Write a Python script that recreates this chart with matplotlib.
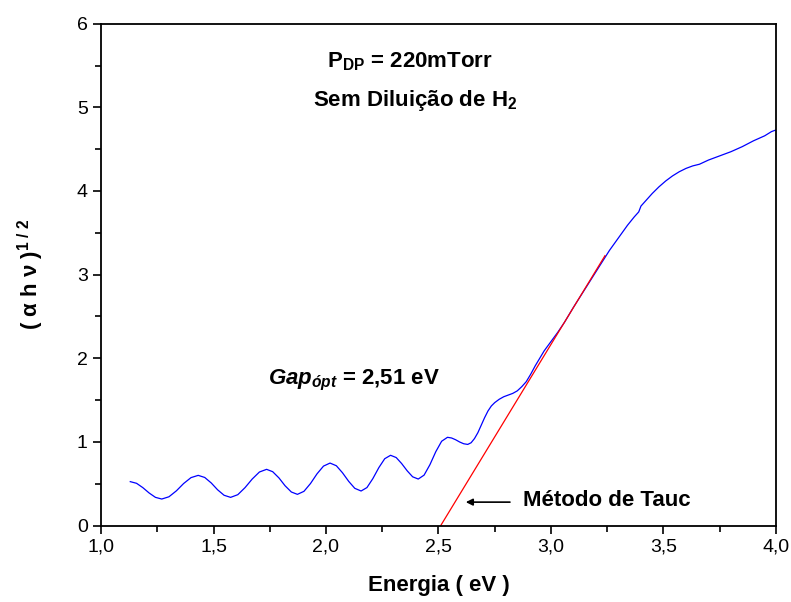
import matplotlib.pyplot as plt
from matplotlib.ticker import MultipleLocator, FuncFormatter

plt.rcParams['font.family'] = ['Liberation Sans', 'DejaVu Sans']
plt.rcParams['mathtext.fontset'] = 'custom'
plt.rcParams['mathtext.rm'] = 'Liberation Sans:bold'
plt.rcParams['mathtext.it'] = 'Liberation Sans:bold:italic'
plt.rcParams['mathtext.bf'] = 'Liberation Sans:bold'

# medida: (alpha h nu)^(1/2) contra energia
energia = [1.13, 1.158, 1.186, 1.214, 1.242, 1.27,
           1.302, 1.335, 1.367, 1.40, 1.432,
           1.461, 1.490, 1.518, 1.547, 1.576,
           1.608, 1.640, 1.672, 1.704, 1.736,
           1.763, 1.791, 1.818, 1.846, 1.873,
           1.902, 1.931, 1.960, 1.989, 2.018,
           2.046, 2.073, 2.101, 2.128, 2.156,
           2.182, 2.208, 2.235, 2.261, 2.287,
           2.312, 2.336, 2.361, 2.385, 2.41,
           2.436, 2.462, 2.488, 2.514, 2.54,
           2.558, 2.576, 2.594, 2.612, 2.63,
           2.645, 2.66, 2.675, 2.69, 2.705, 2.72, 2.735, 2.75, 2.77, 2.79,
           2.81, 2.83, 2.85, 2.87, 2.89, 2.91, 2.93, 2.95, 2.97, 3.00,
           3.03, 3.06, 3.10, 3.14, 3.18, 3.22, 3.26, 3.30, 3.34, 3.37,
           3.39, 3.40, 3.42, 3.45, 3.48, 3.51, 3.54, 3.57, 3.60, 3.63,
           3.66, 3.70, 3.75, 3.80, 3.85, 3.90, 3.95, 3.98, 4.00]
tauc = [0.525, 0.505, 0.453, 0.389, 0.337, 0.317,
        0.344, 0.415, 0.502, 0.573, 0.60,
        0.575, 0.509, 0.428, 0.362, 0.337,
        0.369, 0.453, 0.556, 0.640, 0.672,
        0.644, 0.569, 0.476, 0.401, 0.373,
        0.409, 0.502, 0.618, 0.711, 0.747,
        0.715, 0.632, 0.528, 0.445, 0.413,
        0.454, 0.560, 0.693, 0.799, 0.84,
        0.813, 0.742, 0.654, 0.583, 0.556,
        0.603, 0.728, 0.883, 1.008, 1.055,
        1.047, 1.026, 0.999, 0.978, 0.97,
        0.99, 1.04, 1.11, 1.20, 1.29, 1.37, 1.43, 1.47, 1.51, 1.54,
        1.56, 1.58, 1.61, 1.66, 1.72, 1.81, 1.91, 2.00, 2.09, 2.20,
        2.31, 2.43, 2.61, 2.78, 2.95, 3.12, 3.29, 3.44, 3.59, 3.69,
        3.75, 3.82, 3.88, 3.97, 4.05, 4.12, 4.18, 4.23, 4.27, 4.30,
        4.32, 4.37, 4.42, 4.47, 4.53, 4.60, 4.66, 4.71, 4.73]

# reta do ajuste linear (metodo de Tauc)
gap = 2.51
inclinacao = 4.42
x_reta = [gap, 3.24]

fig = plt.figure(figsize=(7.91, 6.02), dpi=100)
ax = fig.add_axes([0.1277, 0.127, 0.8533, 0.8336])

ax.plot(energia, tauc, c='#0000ff', lw=0.9)
ax.plot(x_reta, [inclinacao * (x - gap) for x in x_reta], c='#ff0000', lw=0.9)

ax.set_xlim(1.0, 4.0)
ax.set_ylim(0, 6)
ax.xaxis.set_major_locator(MultipleLocator(0.5))
ax.xaxis.set_minor_locator(MultipleLocator(0.25))
ax.yaxis.set_major_locator(MultipleLocator(1))
ax.yaxis.set_minor_locator(MultipleLocator(0.5))
ax.xaxis.set_major_formatter(FuncFormatter(lambda v, p: ('%.1f' % v).replace('.', ',')))
ax.yaxis.set_major_formatter(FuncFormatter(lambda v, p: '%d' % v))
ax.tick_params(which='both', direction='out', width=1.2, labelsize=14)
ax.tick_params(which='major', length=6)
ax.tick_params(which='minor', length=4)
for s in ax.spines.values():
    s.set_linewidth(1.3)

ax.set_xlabel('Energia ( eV )', fontsize=16, fontweight='bold', labelpad=14)
ax.set_ylabel(r'( α h ν )$^{\mathrm{1\ /\ 2}}$', fontsize=16, fontweight='bold', labelpad=22)

ax.text(2.373, 5.54, r'P$_{\mathrm{DP}}$ = 220mTorr', fontsize=16, fontweight='bold',
        ha='center', va='center')
ax.text(2.396, 5.08, r'Sem Diluição de H$_{\mathrm{2}}$', fontsize=16, fontweight='bold',
        ha='center', va='center')
ax.text(1.742, 1.73, r'$Gap_{ópt}$ = 2,51 eV', fontsize=16, fontweight='bold',
        ha='left', va='center')
ax.text(2.876, 0.305, 'Método de Tauc', fontsize=16, fontweight='bold',
        ha='left', va='center')
ax.annotate('', xy=(2.609, 0.28), xytext=(2.83, 0.28),
            arrowprops=dict(arrowstyle='-|>', color='black', lw=1.2, mutation_scale=10))

fig.savefig('out.png', dpi=100)
